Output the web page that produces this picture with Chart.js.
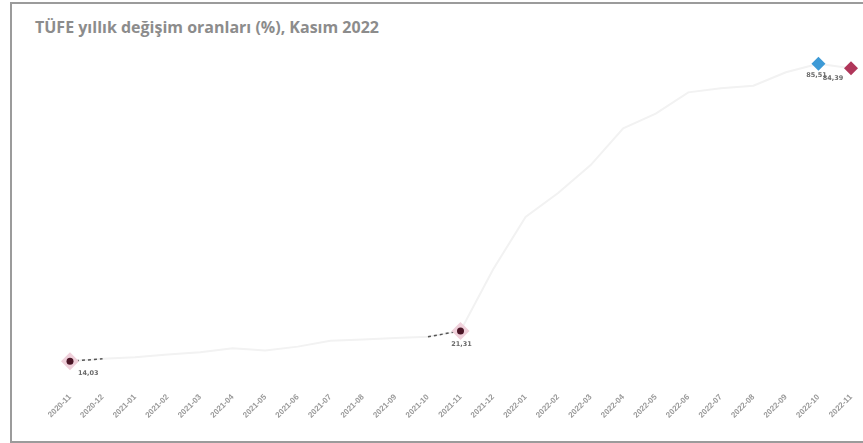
<!DOCTYPE html>
<html>
<head>
<meta charset="utf-8">
<script src="https://cdn.jsdelivr.net/npm/chart.js@4.4.0/dist/chart.umd.min.js"></script>
<style>
  html, body { margin:0; padding:0; width:863px; height:443px; overflow:hidden; background:#fff; }
  #frame { position:absolute; left:10px; top:2px; width:880px; height:437px; border:2px solid #9b9b9b; box-sizing:content-box; }
  #title { position:absolute; left:35px; top:16px; font-family:"Open Sans","DejaVu Sans",sans-serif; font-weight:bold; font-size:16px; color:#8c8c8c; white-space:nowrap; }
  #wrap { position:absolute; left:0; top:0; width:863px; height:443px; }
</style>
</head>
<body>
<div id="frame"></div>
<div id="title">TÜFE yıllık değişim oranları (%), Kasım 2022</div>
<div id="wrap"><canvas id="c" width="863" height="443"></canvas></div>
<script>
const categories = ["2020-11","2020-12","2021-01","2021-02","2021-03","2021-04","2021-05","2021-06","2021-07","2021-08","2021-09","2021-10","2021-11","2021-12","2022-01","2022-02","2022-03","2022-04","2022-05","2022-06","2022-07","2022-08","2022-09","2022-10","2022-11"];
const tufeAnnual = [14.03,14.60,14.97,15.61,16.19,17.14,16.59,17.53,18.95,19.25,19.58,19.89,21.31,36.08,48.69,54.44,61.14,69.97,73.50,78.62,79.60,80.21,83.45,85.51,84.39];
const highlightIdx = [0, 12, 23, 24];
const centerIdx = [0, 12];
const dashedIdx = [0, 1, 11, 12];
const labelIdx = [0, 12, 23, 24];

const pick = (idxs) => tufeAnnual.map((v,i) => idxs.includes(i) ? v : null);
const fmt = v => v.toFixed(2).replace('.', ',');

const labelOffsets = {0:[8,12,'left'], 12:[1,13,'center'], 23:[-2,12,'center'], 24:[-18,10,'center']};

const labelPlugin = {
  id:'valLabels',
  afterDatasetsDraw(chart){
    const {ctx, scales:{x,y}} = chart;
    ctx.save();
    ctx.font = 'bold 6.5px "DejaVu Sans", sans-serif';
    ctx.fillStyle = '#6a6a6a';
    ctx.textBaseline = 'middle';
    labelIdx.forEach(i => {
      const px = x.getPixelForValue(i), py = y.getPixelForValue(tufeAnnual[i]);
      const o = labelOffsets[i];
      ctx.textAlign = o[2];
      ctx.fillText(fmt(tufeAnnual[i]), px + o[0], py + o[1]);
    });
    ctx.restore();
  }
};

const radii = tufeAnnual.map((v,i) => (i===0||i===12) ? 9 : (i===23||i===24) ? 7 : 0);
const fills = tufeAnnual.map((v,i)=> i===23 ? '#3d9ad6' : i===24 ? '#b0365a' : '#efd0da');

new Chart(document.getElementById('c'), {
  type:'line',
  data:{
    labels: categories,
    datasets:[
      { data: pick(centerIdx), showLine:false,
        pointStyle:'circle', pointRadius:3.5, pointBackgroundColor:'#4b1526', pointBorderWidth:0, order:0 },
      { data: pick(highlightIdx), showLine:false, pointStyle:'rectRot',
        pointRadius: radii, pointBackgroundColor: fills, pointBorderWidth:0, order:1 },
      { data: pick(dashedIdx), borderColor:'#555555', borderWidth:1.5, borderDash:[3,3],
        pointRadius:0, spanGaps:false, tension:0, order:2 },
      { data: tufeAnnual, borderColor:'#f2f2f2', borderWidth:2, pointRadius:0, tension:0, order:3 }
    ]
  },
  options:{
    responsive:false, animation:false,
    layout:{ padding:{ left:70, right:12, top:45, bottom:21 } },
    plugins:{ legend:{display:false}, tooltip:{enabled:false}, title:{display:false} },
    scales:{
      x:{ offset:false, grid:{display:false, drawTicks:false}, border:{display:false},
          ticks:{ minRotation:45, maxRotation:45, autoSkip:false, padding:2,
                  color:'#999999', font:{ size:8, weight:'bold', family:'"Liberation Sans", Arial, sans-serif' } } },
      y:{ display:false, min:7, max:90 }
    }
  },
  plugins:[labelPlugin]
});
</script>
</body>
</html>
